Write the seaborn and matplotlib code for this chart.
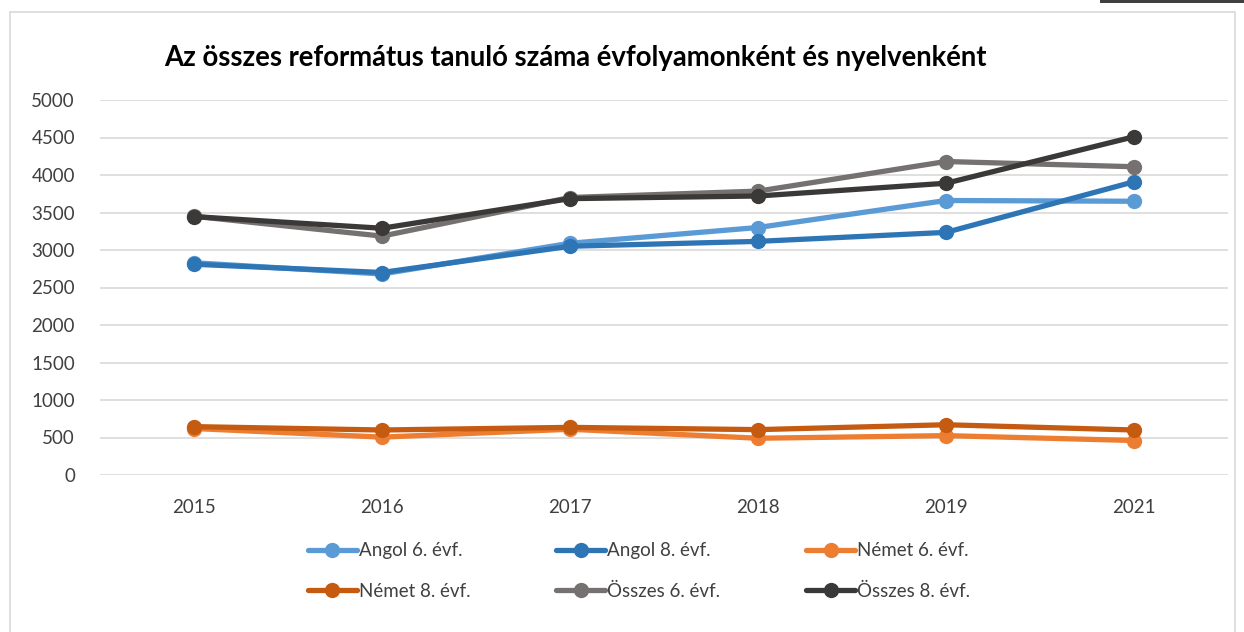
import matplotlib
matplotlib.use("Agg")
import matplotlib.pyplot as plt
import seaborn as sns
import pandas as pd
from matplotlib.patches import Rectangle

years = ["2015", "2016", "2017", "2018", "2019", "2021"]
angol6 = [2830, 2680, 3090, 3300, 3660, 3650]
angol8 = [2810, 2700, 3050, 3115, 3235, 3910]
nemet6 = [620, 505, 610, 490, 525, 460]
nemet8 = [645, 600, 635, 605, 670, 600]
osszes6 = [3450, 3185, 3700, 3785, 4180, 4110]
osszes8 = [3445, 3290, 3685, 3720, 3890, 4510]

series_names = ["Angol 6. évf.", "Angol 8. évf.", "Német 6. évf.",
                "Német 8. évf.", "Összes 6. évf.", "Összes 8. évf."]
series_vals = [angol6, angol8, nemet6, nemet8, osszes6, osszes8]
colors = ["#5B9BD5", "#2E75B6", "#ED7D31", "#C55A11", "#767171", "#3B3838"]

rows = []
for name, vals in zip(series_names, series_vals):
    for y, v in zip(years, vals):
        rows.append({"Év": y, "Tanulók": v, "Sorozat": name})
df = pd.DataFrame(rows)

sns.set_theme(style="white")
plt.rcParams["font.family"] = ["Lato", "DejaVu Sans"]

fig = plt.figure(figsize=(12.44, 6.32), dpi=100)
ax = fig.add_axes([100/1244, 157/632, 1128/1244, 375/632])

sns.lineplot(data=df, x="Év", y="Tanulók", hue="Sorozat", hue_order=series_names,
             palette=colors, marker="o", markersize=11, markeredgewidth=0,
             linewidth=3.8, sort=False, ax=ax, legend=True)

ax.set_xlim(-0.5, 5.5)
ax.set_ylim(0, 5000)
ax.set_yticks(range(0, 5001, 500))
ax.yaxis.grid(True, color="#D9D9D9", linewidth=1.2)
ax.set_axisbelow(True)
for s in ax.spines.values():
    s.set_visible(False)
ax.set_xlabel("")
ax.set_ylabel("")
ax.tick_params(axis="both", length=0, labelsize=13.5, colors="#404040")
ax.tick_params(axis="x", pad=17)
ax.tick_params(axis="y", pad=18)

handles, labels = ax.get_legend_handles_labels()
ax.legend_.remove()
order = [0, 3, 1, 4, 2, 5]
fig.legend([handles[i] for i in order], [labels[i] for i in order], ncol=3,
           loc="center", bbox_to_anchor=(639/1244, 1 - 571/632),
           frameon=False, fontsize=13.5, handlelength=2.6, columnspacing=4.6,
           labelspacing=1.25, handletextpad=0.1, labelcolor="#404040")

fig.text(575/1244, 1 - 58/632, "Az összes református tanuló száma évfolyamonként és nyelvenként",
         ha="center", va="center", fontsize=19.8, fontweight="bold", color="#000000")

fig.patches.append(Rectangle((10/1244, -0.01), 1225/1244, 1 - 12/632 + 0.01,
                             transform=fig.transFigure, fill=False,
                             edgecolor="#D9D9D9", linewidth=1.2))
fig.patches.append(Rectangle((1100/1244, 1 - 3/632), 144/1244, 3/632,
                             transform=fig.transFigure, facecolor="#404040",
                             edgecolor="none"))

fig.savefig("out.png", dpi=100)
